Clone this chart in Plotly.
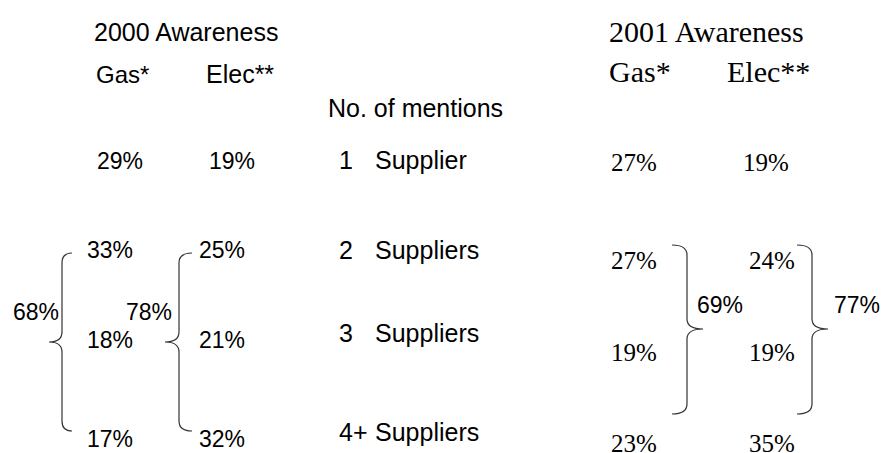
import plotly.graph_objects as go

# ---- data ----
mentions_num = ["1", "2", "3", "4+"]
mentions_word = ["Supplier", "Suppliers", "Suppliers", "Suppliers"]
gas_2000 = [29, 33, 18, 17]
elec_2000 = [19, 25, 21, 32]
gas_2001 = [27, 27, 19, 23]
elec_2001 = [19, 24, 19, 35]
sum_gas_2000 = 68
sum_elec_2000 = 78
sum_gas_2001 = 69
sum_elec_2001 = 77

# ---- layout positions (pixel space) ----
W, H = 882, 453
row_y_left = [161, 250, 340, 439]
row_y_mid = [160, 250, 333, 432]
row_y_right = [162, 260, 352, 443]
x_gas00 = [120, 110, 110, 110]
x_elec00 = [232, 222, 222, 222]
x_gas01 = 634
x_elec01 = [766, 772, 772, 772]

SANS = "Liberation Sans, Arial, sans-serif"
SERIF = "Liberation Serif, Times New Roman, serif"

ann = []


def add(text, x, y, size, family=SANS, xanchor="center"):
    ann.append(dict(text=text, x=x, y=y, xref="x", yref="y", showarrow=False,
                    xanchor=xanchor, yanchor="middle",
                    font=dict(family=family, size=size, color="black")))


# headers
add("2000 Awareness", 186, 32, 25)
add("Gas*", 122, 74, 24)
add("Elec**", 240, 74, 25)
add("No. of mentions", 415, 108, 25)
add("2001 Awareness", 607, 31, 30, SERIF, "left")
add("Gas*", 607, 71, 30, SERIF, "left")
add("Elec**", 725, 71, 30, SERIF, "left")

for i in range(4):
    add(f"{gas_2000[i]}%", x_gas00[i], row_y_left[i], 23)
    add(f"{elec_2000[i]}%", x_elec00[i], row_y_left[i], 23)
    add(mentions_num[i], 337, row_y_mid[i], 25, SANS, "left")
    add(mentions_word[i], 373, row_y_mid[i], 25, SANS, "left")
    add(f"{gas_2001[i]}%", x_gas01, row_y_right[i], 25, SERIF)
    add(f"{elec_2001[i]}%", x_elec01[i], row_y_right[i], 25, SERIF)

add(f"{sum_gas_2000}%", 36, 312, 23)
add(f"{sum_elec_2000}%", 149, 312, 23)
add(f"{sum_gas_2001}%", 720, 305, 23)
add(f"{sum_elec_2001}%", 857, 305, 23)


def brace(x_line, y_top, y_mid, y_bot, tip, dx, r=10):
    # dx: horizontal offset of end tips (sign gives direction), tip: x of middle point
    xe = x_line + dx
    return (f"M {xe} {y_top} Q {x_line} {y_top} {x_line} {y_top + r} "
            f"L {x_line} {y_mid - r} Q {x_line} {y_mid} {tip} {y_mid} "
            f"Q {x_line} {y_mid} {x_line} {y_mid + r} "
            f"L {x_line} {y_bot - r} Q {x_line} {y_bot} {xe} {y_bot}")


shapes = []
for path in [brace(62, 253, 342, 431, 49, 10),
             brace(179, 253, 342, 431, 165, 13),
             brace(687, 245, 329, 414, 703, -15),
             brace(812, 245, 329, 414, 828, -15)]:
    shapes.append(dict(type="path", path=path, xref="x", yref="y",
                       line=dict(color="#333333", width=1.2)))

fig = go.Figure()
fig.update_layout(
    width=W, height=H,
    margin=dict(l=0, r=0, t=0, b=0),
    paper_bgcolor="white", plot_bgcolor="white",
    xaxis=dict(range=[0, W], visible=False, fixedrange=True),
    yaxis=dict(range=[H, 0], visible=False, fixedrange=True),
    annotations=ann, shapes=shapes, showlegend=False,
)
fig.write_html(
    "out.html",
    config={"displayModeBar": False},
    post_script="document.body.style.margin='0';document.body.style.overflow='hidden';",
)
